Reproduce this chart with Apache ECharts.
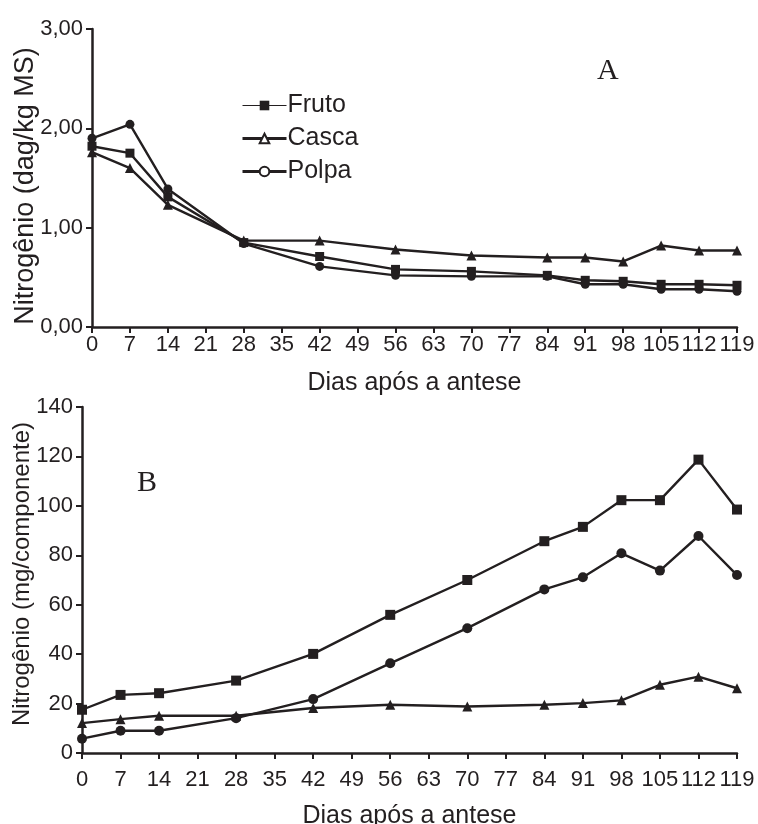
<!DOCTYPE html>
<html>
<head>
<meta charset="utf-8">
<title>Nitrogênio</title>
<script src="https://cdn.jsdelivr.net/npm/echarts@6/dist/echarts.min.js"></script>
<style>
  html, body { margin: 0; padding: 0; background: #fff; }
  #chart { width: 758px; height: 824px; }
</style>
</head>
<body>
<div id="chart"></div>
<script>
// dias após a antese
const days = [0, 7, 14, 28, 42, 56, 70, 84, 91, 98, 105, 112, 119]

// painel A - dag/kg MS
const frutoA = [1.82, 1.75, 1.31, 0.85, 0.71, 0.58, 0.56, 0.52, 0.47, 0.46, 0.43, 0.43, 0.42]
const cascaA = [1.76, 1.60, 1.23, 0.87, 0.87, 0.78, 0.72, 0.70, 0.70, 0.66, 0.82, 0.77, 0.77]
const polpaA = [1.90, 2.04, 1.39, 0.84, 0.61, 0.52, 0.51, 0.51, 0.43, 0.43, 0.38, 0.38, 0.36]

// painel B - mg/componente
const frutoB = [17.5, 23.5, 24.2, 29.3, 40.1, 55.9, 70.0, 85.7, 91.5, 102.3, 102.3, 118.7, 98.5]
const cascaB = [12.1, 13.7, 15.1, 15.1, 18.2, 19.5, 18.8, 19.5, 20.2, 21.3, 27.6, 30.9, 26.2]
const polpaB = [5.8, 9.0, 9.0, 14.1, 21.8, 36.3, 50.5, 66.2, 71.1, 80.8, 73.8, 87.8, 72.0]

const INK = '#231f20'
const FONT = 'Liberation Sans'

const pairs = (vals) => days.map((d, i) => [d, vals[i]])

const axisCommon = {
  axisLine: { show: true, lineStyle: { color: INK, width: 2.5 } },
  axisTick: { show: true, inside: false, length: 6, lineStyle: { color: INK, width: 2 } },
  splitLine: { show: false },
  axisLabel: { color: INK, fontFamily: FONT, fontSize: 22 },
  nameTextStyle: { color: INK, fontFamily: FONT, fontSize: 25 },
}

const xAxis = (gridIndex, nameGap, margin) => ({
  ...axisCommon,
  type: 'value',
  gridIndex,
  min: 0,
  max: 119,
  interval: 7,
  name: 'Dias após a antese',
  nameLocation: 'middle',
  nameGap,
  axisLabel: { ...axisCommon.axisLabel, margin, showMinLabel: true, showMaxLabel: true },
})

const mkSeries = (name, vals, symbol, size, idx) => ({
  name,
  type: 'line',
  xAxisIndex: idx,
  yAxisIndex: idx,
  data: pairs(vals),
  symbol,
  symbolSize: size,
  showAllSymbol: true,
  lineStyle: { color: INK, width: 2.4 },
  itemStyle: { color: INK },
  emphasis: { disabled: true },
})

const chart = echarts.init(document.getElementById('chart'), null, { renderer: 'canvas' })

chart.setOption({
  animation: false,
  backgroundColor: '#fff',
  grid: [
    { left: 92, right: 21, top: 29, height: 298, containLabel: false, outerBoundsMode: 'none' },
    { left: 82, right: 21, top: 407, height: 346, containLabel: false, outerBoundsMode: 'none' },
  ],
  xAxis: [xAxis(0, 44, 7), xAxis(1, 51, 16)],
  yAxis: [
    {
      ...axisCommon,
      type: 'value',
      gridIndex: 0,
      min: 0,
      max: 3,
      interval: 1,
      name: 'Nitrogênio (dag/kg MS)',
      nameLocation: 'middle',
      nameGap: 53,
      nameMoveOverlap: false,
      nameTextStyle: { ...axisCommon.nameTextStyle, fontSize: 27, padding: [0, 16, 0, 0] },
      axisLabel: {
        ...axisCommon.axisLabel,
        margin: 9,
        formatter: (v) => v.toFixed(2).replace('.', ','),
      },
    },
    {
      ...axisCommon,
      type: 'value',
      gridIndex: 1,
      min: 0,
      max: 140,
      interval: 20,
      name: 'Nitrogênio (mg/componente)',
      nameLocation: 'middle',
      nameGap: 48,
      nameMoveOverlap: false,
      nameTextStyle: { ...axisCommon.nameTextStyle, fontSize: 24, padding: [0, 0, 0, 12] },
      axisLabel: { ...axisCommon.axisLabel, margin: 9 },
    },
  ],
  legend: {
    orient: 'vertical',
    left: 236,
    top: 88,
    itemWidth: 44,
    itemHeight: 12,
    itemGap: 8,
    selectedMode: false,
    textStyle: { color: INK, fontFamily: FONT, fontSize: 25, padding: [0, 0, 0, -4] },
    data: [
      { name: 'Fruto', itemStyle: { color: INK }, lineStyle: { width: 1, color: INK } },
      { name: 'Casca', itemStyle: { color: '#fff', borderColor: INK, borderWidth: 2 }, lineStyle: { width: 3, color: INK } },
      { name: 'Polpa', itemStyle: { color: '#fff', borderColor: INK, borderWidth: 2 }, lineStyle: { width: 3, color: INK } },
    ],
  },
  graphic: [
    { type: 'text', left: 597, top: 56, style: { text: 'A', fontFamily: 'Liberation Serif', fontSize: 30, fill: INK } },
    { type: 'text', left: 137, top: 468, style: { text: 'B', fontFamily: 'Liberation Serif', fontSize: 30, fill: INK } },
  ],
  series: [
    mkSeries('Fruto', frutoA, 'rect', 9, 0),
    mkSeries('Casca', cascaA, 'triangle', 10, 0),
    mkSeries('Polpa', polpaA, 'circle', 9, 0),
    mkSeries('Fruto', frutoB, 'rect', 10, 1),
    mkSeries('Casca', cascaB, 'triangle', 10, 1),
    mkSeries('Polpa', polpaB, 'circle', 10, 1),
  ],
})
</script>
</body>
</html>
